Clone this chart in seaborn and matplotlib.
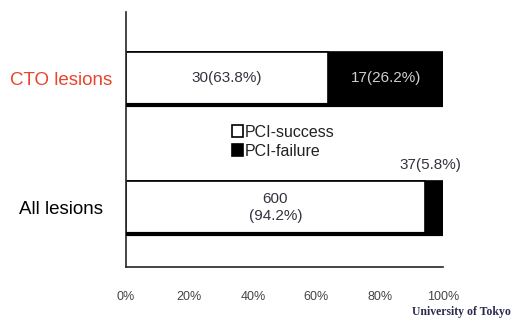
import matplotlib
matplotlib.use("Agg")
import matplotlib.pyplot as plt
import seaborn as sns
import pandas as pd

# data
categories = ["CTO lesions", "All lesions"]
success = [30, 600]
failure = [17, 37]
inner_labels = ["30(63.8%)", "600\n(94.2%)"]
fail_labels = ["17(26.2%)", "37(5.8%)"]
xticks = [0, 20, 40, 60, 80, 100]
xtick_labels = ["0%", "20%", "40%", "60%", "80%", "100%"]

df = pd.DataFrame({"cat": categories, "success": success, "failure": failure})
df["total"] = df["success"] + df["failure"]
df["succ_pct"] = df["success"] / df["total"] * 100
df["all_pct"] = 100.0

sns.set_style("white")
plt.rcParams["font.family"] = ["Liberation Sans", "DejaVu Sans"]

fig = plt.figure(figsize=(5.25, 3.25), dpi=100)
ax = fig.add_axes([0.24, 0.178, 0.604, 0.785])

sns.barplot(data=df, x="all_pct", y="cat", orient="h", color="black",
            edgecolor="black", linewidth=1.2, width=0.41, label="PCI-failure", ax=ax)
sns.barplot(data=df, x="succ_pct", y="cat", orient="h", color="white", saturation=1,
            edgecolor="black", linewidth=1.2, width=0.41, label="PCI-success", ax=ax)

# thicker bottom edge like the original shadow
for p in ax.patches[:2]:
    y0 = p.get_y() + p.get_height()
    ax.plot([p.get_x(), p.get_x() + p.get_width()], [y0, y0], color="black", lw=3,
            solid_capstyle="butt", zorder=5)

ax.set_xlim(0, 100)
ax.set_ylim(1.46, -0.51)
ax.set_xlabel("")
ax.set_ylabel("")
sns.despine(ax=ax)
ax.spines["left"].set_linewidth(1.2)
ax.spines["bottom"].set_linewidth(1.2)

ax.set_xticks(xticks)
ax.set_xticklabels(xtick_labels, fontsize=9, color="#444444")
ax.tick_params(axis="x", direction="in", length=4, width=1, pad=17)

ax.set_yticks([0, 1])
ax.set_yticklabels(categories, fontsize=13.5)
ax.tick_params(axis="y", length=0, pad=47)
for lab, col in zip(ax.get_yticklabels(), ["#e8452c", "black"]):
    lab.set_color(col)
    lab.set_horizontalalignment("center")
ax.set_yticks([0.5], minor=True)
ax.tick_params(axis="y", which="minor", direction="in", length=3, width=1)

# value labels
for i, row in df.iterrows():
    ax.text(row["succ_pct"] / 2, i, inner_labels[i], ha="center", va="center",
            fontsize=11, color="#333340", linespacing=1.2)
ax.text((df["succ_pct"][0] + 100) / 2, 0, fail_labels[0], ha="center", va="center",
        fontsize=11, color="#cfcfcf")
ax.text(96, 1 - 0.33, fail_labels[1], ha="center", va="center", fontsize=11,
        color="#333340")

h, l = ax.get_legend_handles_labels()
leg = ax.legend(h[::-1], l[::-1], loc="upper left", bbox_to_anchor=(0.31, 0.59),
                frameon=False, fontsize=11.5, handlelength=0.7, handleheight=0.7,
                handletextpad=0.1, labelspacing=0.25, borderpad=0)
for t in leg.get_texts():
    t.set_color("#222222")

fig.text(0.785, 0.03, "University of Tokyo", family="Liberation Serif", fontsize=8.5,
         fontweight="bold", color="#2a2a50")

fig.savefig("out.png", dpi=100)
